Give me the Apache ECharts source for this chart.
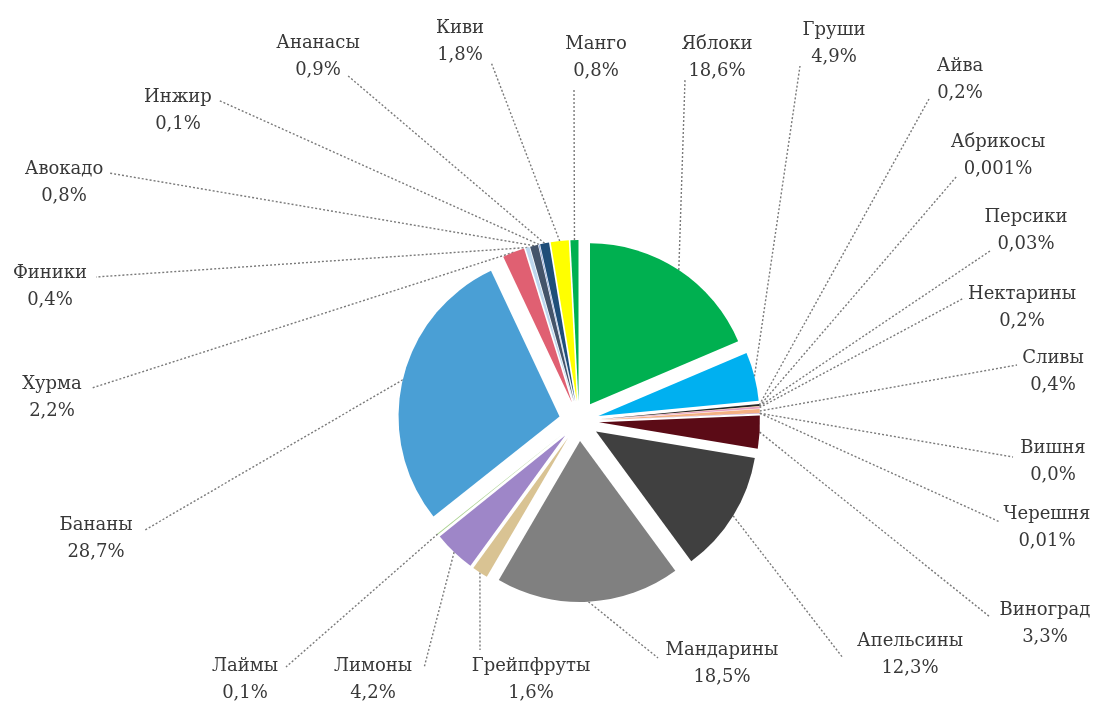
<!DOCTYPE html>
<html>
<head>
<meta charset="utf-8">
<script src="https://cdn.jsdelivr.net/npm/echarts@6/dist/echarts.min.js"></script>
<style>
html,body{margin:0;padding:0;background:#fff;}
#chart{width:1098px;height:713px;}
</style>
</head>
<body>
<div id="chart"></div>
<script>
// ---- data ----
const categories = ['Яблоки','Груши','Айва','Абрикосы','Персики','Нектарины','Сливы','Вишня','Черешня','Виноград','Апельсины','Мандарины','Грейпфруты','Лимоны','Лаймы','Бананы','Хурма','Финики','Авокадо','Инжир','Ананасы','Киви','Манго'];
const shares = [18.6, 4.9, 0.2, 0.001, 0.03, 0.2, 0.4, 0.0, 0.01, 3.3, 12.3, 18.5, 1.6, 4.2, 0.1, 28.7, 2.2, 0.4, 0.8, 0.1, 0.9, 1.8, 0.8];
const colors = ['#00B050','#00B0F0','#262626','#7F7F7F','#FFC000','#E7A0C0','#F4B183','#C00000','#7030A0','#5B0B16','#404040','#808080','#D9C393','#9E86C8','#A9D18E','#4A9FD5','#E06072','#BDD7EE','#44546A','#8FAADC','#1F4E79','#FFFF00','#00B050'];

// ---- layout ----
const CX = 579, CY = 421, R = 161, OFFSET = 20;
const labelPos = [
  [717, 58], [834, 44], [960, 80], [998, 156], [1026, 231], [1022, 308], [1053, 372],
  [1053, 462], [1047, 528], [1045, 624], [910, 655], [722, 664], [531, 680], [373, 680],
  [245, 680], [96, 539], [52, 398], [50, 287], [64, 183], [178, 111], [318, 57], [460, 42], [596, 58]
];
const lineEnd = [
  [685, 80], [800, 66], [929, 99], [957, 176], [990, 251], [964, 298], [1017, 365],
  [1013, 457], [1000, 522], [990, 617], [843, 658], [658, 658], [480, 650], [424, 668],
  [286, 667], [145, 530], [92, 388], [96, 277], [109, 173], [218, 100], [347, 75], [491, 62], [574, 88]
];

function fmtPct(v) {
  let s;
  if (v === 0) s = '0.0';
  else if (v < 0.1) s = String(v);
  else s = v.toFixed(1);
  return s.replace('.', ',') + '%';
}

const total = shares.reduce((a, b) => a + b, 0);
const midAngles = [];
let cum = 0;
shares.forEach(v => { midAngles.push(2 * Math.PI * (cum + v / 2) / total); cum += v; });

const chart = echarts.init(document.getElementById('chart'));
chart.setOption({
  animation: false,
  backgroundColor: '#ffffff',
  series: [{
    type: 'pie',
    z: 2,
    center: [CX, CY],
    radius: [0, R],
    startAngle: 90,
    clockwise: true,
    selectedMode: 'multiple',
    selectedOffset: OFFSET,
    emphasis: { disabled: true },
    label: { show: false },
    labelLine: { show: false },
    data: categories.map((c, i) => ({
      name: c,
      value: shares[i],
      selected: true,
      itemStyle: { color: colors[i] }
    }))
  }, {
    type: 'pie',
    z: 1,
    silent: true,
    center: [CX, CY],
    radius: [0, R],
    startAngle: 90,
    clockwise: true,
    avoidLabelOverlap: false,
    emphasis: { disabled: true },
    itemStyle: { color: 'rgba(0,0,0,0)' },
    label: {
      show: true,
      formatter: p => p.name + '\n' + fmtPct(shares[p.dataIndex]),
      fontFamily: 'DejaVu Serif',
      fontSize: 18,
      lineHeight: 27,
      color: '#383838',
      align: 'center'
    },
    labelLine: {
      show: true,
      length: 10,
      length2: 10,
      lineStyle: { color: '#7a7a7a', width: 1.4, type: [2, 2] }
    },
    labelLayout: function (p) {
      const i = p.dataIndex;
      const a = midAngles[i];
      const p0 = [CX + (R + OFFSET) * Math.sin(a), CY - (R + OFFSET) * Math.cos(a)];
      const e = lineEnd[i];
      return {
        x: labelPos[i][0],
        y: labelPos[i][1],
        align: 'center',
        verticalAlign: 'middle',
        labelLinePoints: [p0, e, e]
      };
    },
    data: categories.map((c, i) => ({ name: c, value: shares[i] }))
  }]
});
</script>
</body>
</html>
